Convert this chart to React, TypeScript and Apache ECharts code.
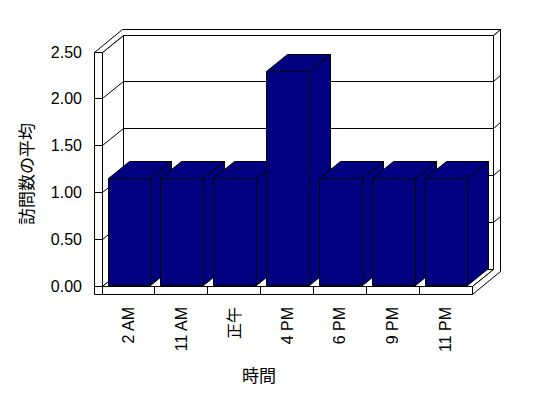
import React, { useEffect, useRef } from "react";
import * as echarts from "echarts";

// ---- data ----
const categories = ["2 AM", "11 AM", "正午", "4 PM", "6 PM", "9 PM", "11 PM"];
const visitAverages = [1.14, 1.14, 1.14, 2.28, 1.14, 1.14, 1.14];
const yTicks = [0, 0.5, 1, 1.5, 2, 2.5];
const yAxisTitle = "訪問数の平均";
const xAxisTitle = "時間";

// ---- 3D look ----
const DX = 21;
const DY = -17;
const WALL = 8;
const KX = 7;
const KY = -6;
const BAR_RATIO = 0.81;
const BAR_SHIFT_X = 1;
const BAR_SHIFT_Y = -1;
const BAR_DX = 21;
const BAR_DY = -17;
const NAVY = "#000080";
const FONT = "'Liberation Sans', 'Noto Sans CJK JP', sans-serif";

const snap = (v: number) => Math.round(v - 0.5) + 0.5;

const poly = (pts: number[][], fill = "#fff") => ({
  type: "polygon",
  shape: { points: pts.map((p) => [snap(p[0]), snap(p[1])]) },
  style: { fill, stroke: "#000", lineWidth: 1 },
});
const line = (x1: number, y1: number, x2: number, y2: number) => ({
  type: "line",
  shape: { x1: snap(x1), y1: snap(y1), x2: snap(x2), y2: snap(y2) },
  style: { stroke: "#000", lineWidth: 1 },
});

function renderFrame(params: any, api: any) {
  const cs = params.coordSys;
  const L = cs.x;
  const R = cs.x + cs.width;
  const maxV = yTicks[yTicks.length - 1];
  const T = api.coord([0, maxV])[1];
  const B = api.coord([0, 0])[1];
  const children: any[] = [];
  // back wall inner face
  children.push(poly([[L + DX, T + DY], [R + DX, T + DY], [R + DX, B + DY], [L + DX, B + DY]]));
  // left wall inner face
  children.push(poly([[L, T], [L + DX, T + DY], [L + DX, B + DY], [L, B]]));
  // floor top
  children.push(poly([[L, B], [R, B], [R + DX, B + DY], [L + DX, B + DY]]));
  // right side strip (back wall side + floor side)
  children.push(
    poly([
      [R, B],
      [R + DX, B + DY],
      [R + DX, T + DY],
      [R + DX + KX, T + DY + KY],
      [R + DX + KX, B + WALL + DY + KY],
      [R, B + WALL],
    ])
  );
  // top of walls
  children.push(
    poly([
      [L - WALL, T],
      [L, T],
      [L + DX, T + DY],
      [R + DX, T + DY],
      [R + DX + KX, T + DY + KY],
      [L - WALL + DX + KX, T + DY + KY],
    ])
  );
  // left wall front face
  children.push(poly([[L - WALL, T], [L, T], [L, B + WALL], [L - WALL, B + WALL]]));
  // floor front face
  children.push(poly([[L, B], [R, B], [R, B + WALL], [L, B + WALL]]));
  yTicks.forEach((v) => {
    const y = api.coord([0, v])[1];
    if (v > 0 && v < maxV) {
      children.push(line(L + DX, y + DY, R + DX, y + DY));
      children.push(line(L, y, L + DX, y + DY));
      children.push(line(R + DX, y + DY, R + DX + KX, y + DY + KY));
    }
    children.push(line(L - WALL, y, L, y));
  });
  const band = cs.width / categories.length;
  for (let i = 1; i < categories.length; i++) {
    const x = L + i * band;
    children.push(line(x, B, x, B + WALL));
  }
  return { type: "group", children };
}

function renderBar(params: any, api: any) {
  const i = api.value(0);
  const v = api.value(1);
  const base = api.coord([i, 0]);
  const top = api.coord([i, v]);
  const band = api.size([1, 0])[0];
  const w = band * BAR_RATIO;
  const x0 = base[0] - w / 2 + BAR_SHIFT_X;
  const x1 = x0 + w;
  const yb = base[1] + BAR_SHIFT_Y;
  const yt = top[1] + BAR_SHIFT_Y;
  return {
    type: "group",
    children: [
      poly([[x1, yt], [x1 + BAR_DX, yt + BAR_DY], [x1 + BAR_DX, yb + BAR_DY], [x1, yb]], NAVY),
      poly([[x0, yt], [x1, yt], [x1 + BAR_DX, yt + BAR_DY], [x0 + BAR_DX, yt + BAR_DY]], NAVY),
      poly([[x0, yt], [x1, yt], [x1, yb], [x0, yb]], NAVY),
    ],
  };
}

export default function App() {
  const ref = useRef<HTMLDivElement>(null);
  useEffect(() => {
    const chart = echarts.init(ref.current!, null, { renderer: "svg" });
    chart.setOption({
      animation: false,
      backgroundColor: "#fff",
      grid: {
        left: 102,
        right: 76,
        top: 52,
        bottom: 112,
        containLabel: false,
        outerBoundsMode: "none",
      },
      xAxis: {
        type: "category",
        data: categories,
        axisLine: { show: false },
        axisTick: { show: false },
        splitLine: { show: false },
        axisLabel: {
          interval: 0,
          rotate: 90,
          margin: 21,
          fontSize: 16,
          color: "#000",
          fontFamily: FONT,
        },
      },
      yAxis: {
        type: "value",
        min: 0,
        max: 2.5,
        interval: 0.5,
        axisLine: { show: false },
        axisTick: { show: false },
        splitLine: { show: false },
        axisLabel: {
          margin: 20,
          fontSize: 16,
          color: "#000",
          fontFamily: FONT,
          formatter: (v: number) => v.toFixed(2),
        },
      },
      graphic: [
        {
          type: "text",
          x: 27,
          y: 174,
          rotation: Math.PI / 2,
          style: {
            text: yAxisTitle,
            fontSize: 17,
            fontFamily: FONT,
            fill: "#000",
            align: "center",
            verticalAlign: "middle",
          },
        },
        {
          type: "text",
          x: 259,
          y: 376,
          style: {
            text: xAxisTitle,
            fontSize: 17,
            fontFamily: FONT,
            fill: "#000",
            align: "center",
            verticalAlign: "middle",
          },
        },
      ],
      series: [
        {
          type: "custom",
          silent: true,
          z: 1,
          renderItem: renderFrame,
          data: [[0, 0]],
        },
        {
          type: "custom",
          silent: true,
          z: 2,
          renderItem: renderBar,
          data: visitAverages.map((v, i) => [i, v]),
        },
      ],
    });
    return () => chart.dispose();
  }, []);
  return (
    <div
      ref={ref}
      style={{ position: "fixed", left: 0, top: 0, width: 548, height: 398, background: "#fff" }}
    />
  );
}
